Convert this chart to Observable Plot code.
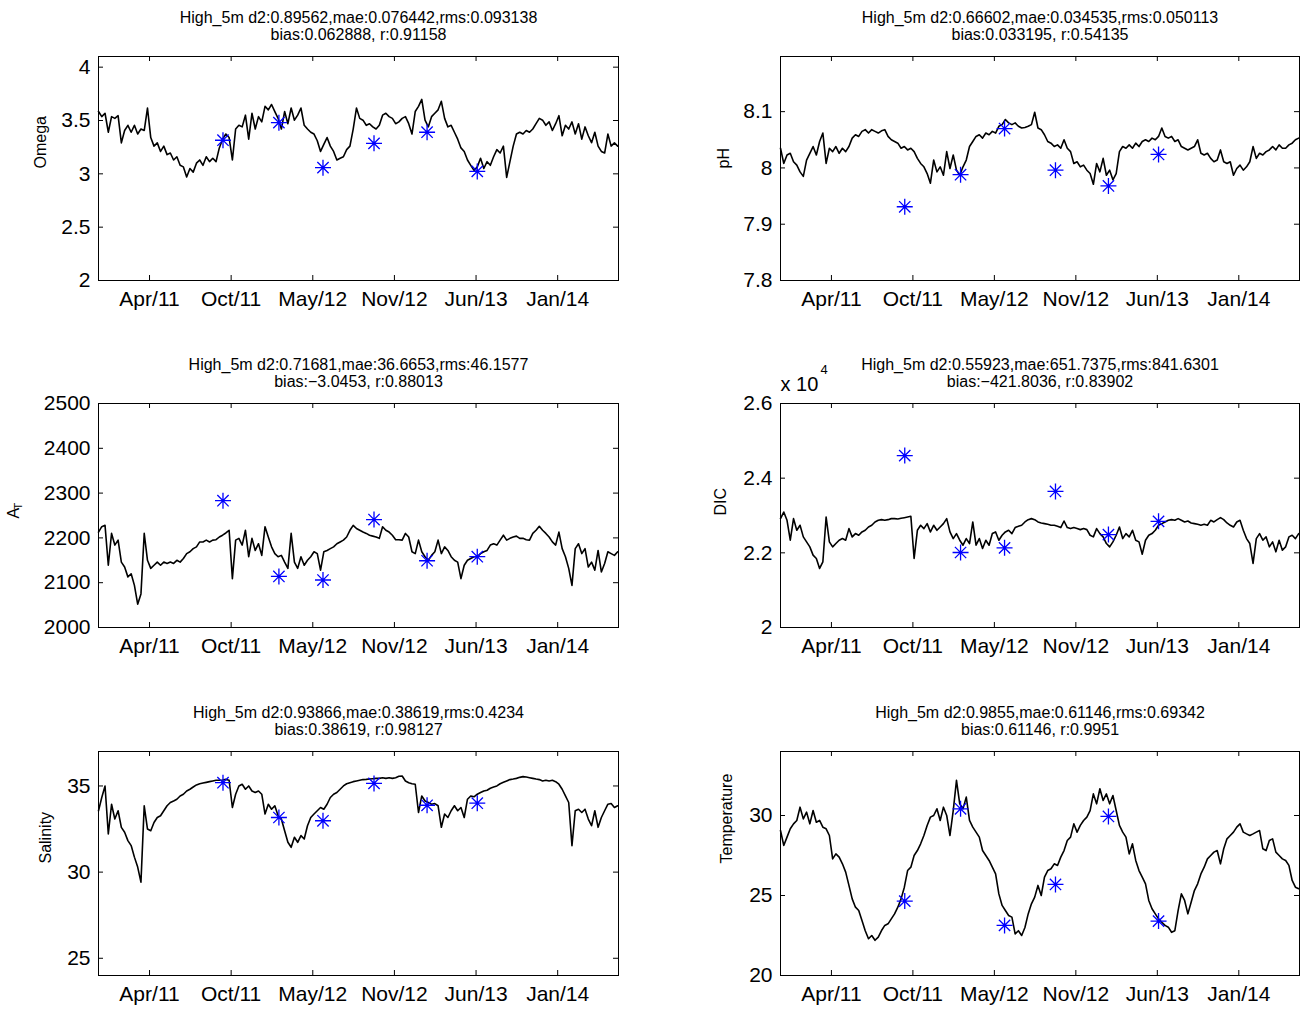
<!DOCTYPE html>
<html>
<head>
<meta charset="utf-8">
<script src="https://cdn.jsdelivr.net/npm/d3@7"></script>
<script src="https://cdn.jsdelivr.net/npm/@observablehq/plot@0.6"></script>
<style>
  body { margin: 0; background: #ffffff; }
  #root { position: relative; width: 1300px; height: 1010px; background: #ffffff; overflow: hidden; }
  .panel { position: absolute; }
</style>
</head>
<body>
<div id="root"></div>
<script>
// ---------- DATA ----------
// Model series sampled every 8 days starting at seriesStart
const seriesStart = "2010-12-03";
const stepDays = 8;
const xDomain = ["2010-12-03", "2014-05-30"];
const xTickDates = ["2011-04-07", "2011-10-24", "2012-05-11", "2012-11-27", "2013-06-15", "2014-01-01"];
const xTickLabels = ["Apr/11", "Oct/11", "May/12", "Nov/12", "Jun/13", "Jan/14"];

// Observation (sample) dates, shared by all panels
const sampleDates = ["2011-10-04", "2012-02-18", "2012-06-05", "2012-10-08", "2013-02-15", "2013-06-18"];

const omega = [3.584,3.536,3.568,3.39,3.536,3.52,3.545,3.29,3.406,3.455,
3.39,3.455,3.373,3.42,3.406,3.617,3.34,3.26,3.29,3.21,
3.26,3.18,3.195,3.13,3.16,3.08,3.065,2.97,3.05,3.016,
3.1,3.13,3.08,3.16,3.114,3.146,3.114,3.243,3.325,3.373,
3.34,3.13,3.42,3.455,3.44,3.55,3.325,3.568,3.42,3.536,
3.487,3.633,3.6,3.65,3.584,3.52,3.42,3.584,3.47,3.617,
3.503,3.55,3.617,3.455,3.42,3.39,3.373,3.31,3.21,3.276,
3.34,3.26,3.21,3.13,3.146,3.16,3.227,3.26,3.42,3.617,
3.52,3.503,3.455,3.47,3.44,3.42,3.455,3.55,3.568,3.536,
3.52,3.47,3.487,3.52,3.536,3.47,3.373,3.584,3.633,3.698,
3.503,3.44,3.536,3.568,3.6,3.68,3.52,3.44,3.455,3.39,
3.325,3.243,3.21,3.13,3.08,3.032,3.065,3.146,3.05,3.114,
3.08,3.16,3.227,3.195,3.26,2.967,3.114,3.26,3.373,3.39,
3.373,3.406,3.39,3.42,3.47,3.52,3.503,3.455,3.487,3.406,
3.47,3.545,3.357,3.455,3.42,3.487,3.373,3.47,3.325,3.44,
3.357,3.292,3.39,3.26,3.21,3.195,3.373,3.26,3.29,3.26];
const omegaSamples = [3.315, 3.48, 3.058, 3.286, 3.39, 3.023];

const ph = [8.035,8.008,8.023,8.026,8.011,8.005,7.993,7.985,8.014,8.026,
8.038,8.023,8.047,8.062,8.008,8.035,8.029,8.038,8.026,8.035,
8.029,8.038,8.053,8.059,8.056,8.065,8.068,8.062,8.068,8.065,
8.062,8.066,8.068,8.056,8.05,8.047,8.044,8.035,8.038,8.032,
8.035,8.029,8.017,8.008,8.002,7.99,7.973,8.014,7.993,8.002,
7.987,8.029,7.999,8.023,7.996,7.987,8.002,8.014,8.038,8.047,
8.056,8.059,8.053,8.062,8.059,8.065,8.062,8.074,8.077,8.086,
8.08,8.077,8.08,8.074,8.071,8.072,8.074,8.077,8.099,8.071,
8.068,8.059,8.047,8.044,8.038,8.041,8.035,8.05,8.035,8.029,
8.008,8.011,8.002,8.005,7.996,7.99,7.971,8.008,7.993,8.017,
7.987,7.996,7.979,7.99,8.029,8.038,8.035,8.041,8.035,8.044,
8.038,8.047,8.05,8.047,8.053,8.05,8.056,8.071,8.056,8.053,
8.056,8.047,8.05,8.038,8.035,8.032,8.035,8.038,8.05,8.026,
8.023,8.026,8.017,8.011,8.014,8.032,8.011,8.008,8.011,7.987,
7.999,8.005,7.996,8.002,8.011,8.038,8.017,8.026,8.023,8.029,
8.032,8.038,8.032,8.041,8.035,8.035,8.041,8.044,8.05,8.053];
const phSamples = [7.931, 7.988, 8.07, 7.996, 7.968, 8.024];

const alkalinity = [2213,2225,2228,2139,2210,2184,2195,2146,2135,2113,
2120,2094,2052,2075,2210,2150,2132,2139,2146,2139,
2146,2143,2146,2143,2150,2146,2154,2165,2169,2176,
2180,2191,2191,2195,2191,2195,2196,2202,2206,2211,
2217,2109,2195,2199,2184,2217,2158,2199,2172,2187,
2161,2225,2202,2180,2165,2158,2161,2146,2132,2210,
2146,2132,2158,2139,2150,2158,2169,2165,2128,2169,
2172,2176,2180,2187,2191,2195,2202,2217,2228,2221,
2217,2213,2210,2206,2204,2202,2199,2225,2217,2213,
2206,2196,2196,2195,2210,2202,2169,2165,2195,2169,
2158,2150,2161,2169,2195,2165,2180,2172,2158,2150,
2146,2109,2139,2150,2154,2158,2158,2165,2169,2172,
2184,2187,2184,2195,2206,2195,2199,2202,2204,2199,
2199,2196,2195,2210,2217,2226,2217,2210,2202,2191,
2184,2213,2176,2158,2132,2094,2176,2187,2165,2176,
2135,2146,2128,2172,2124,2143,2169,2165,2161,2169];
const alkalinitySamples = [2283, 2114, 2106, 2241, 2149, 2158];

const dic = [22916,23093,22871,22338,22916,22604,22738,22427,22293,22160,
21938,21849,21582,21760,22960,22293,22160,22249,22338,22382,
22338,22649,22427,22516,22471,22560,22604,22693,22738,22827,
22871,22889,22871,22889,22916,22916,22907,22924,22942,22960,
22978,21849,22604,22738,22649,22782,22560,22738,22604,22693,
22782,22916,22560,22382,22516,22338,22204,22382,22249,22827,
22204,22382,22116,22338,22204,22516,22560,22338,22471,22560,
22604,22516,22676,22711,22738,22827,22889,22916,22889,22827,
22800,22782,22764,22738,22738,22711,22676,22853,22676,22649,
22676,22649,22622,22649,22622,22471,22427,22649,22516,22427,
22249,22160,22293,22471,22693,22382,22516,22427,22604,22338,
22293,21964,22338,22471,22516,22604,22738,22782,22827,22871,
22889,22871,22916,22871,22827,22853,22800,22782,22764,22738,
22764,22738,22871,22827,22889,22942,22889,22800,22738,22693,
22827,22871,22604,22382,22249,21716,22382,22516,22338,22427,
22160,22293,22027,22338,22071,22160,22427,22471,22382,22516];
const dicSamples = [24604, 22009, 22133, 23644, 22489, 22844];

const salinity = [33.56,34.33,35.0,32.21,33.94,33.08,33.56,32.6,32.31,31.83,
31.54,30.87,30.29,29.42,33.85,32.5,32.4,32.88,33.17,33.27,
33.56,33.85,34.04,34.13,34.23,34.42,34.52,34.71,34.81,34.94,
35.06,35.13,35.17,35.21,35.25,35.29,35.33,35.33,35.35,35.38,
35.33,33.75,34.52,35.0,35.1,34.81,35.0,34.71,34.62,34.71,
34.52,33.37,33.94,33.65,33.85,33.27,33.08,32.4,31.73,31.44,
32.02,31.73,32.12,31.92,32.69,33.17,33.37,33.56,33.75,33.65,
33.94,34.33,34.52,34.62,34.81,35.0,35.13,35.19,35.25,35.29,
35.33,35.37,35.38,35.4,35.42,35.44,35.44,35.48,35.44,35.48,
35.44,35.48,35.56,35.58,35.29,35.19,35.13,35.1,33.46,34.42,
34.13,34.04,33.94,33.98,33.85,32.6,33.37,33.17,33.56,33.85,
33.56,33.75,33.17,34.23,34.42,34.37,34.52,34.62,34.71,34.75,
34.87,34.94,35.0,35.13,35.21,35.29,35.37,35.4,35.44,35.5,
35.54,35.52,35.48,35.44,35.4,35.37,35.29,35.33,35.29,35.33,
35.25,35.1,34.81,34.42,34.04,31.54,33.56,33.65,33.46,33.65,
33.08,32.69,33.56,32.6,33.17,33.56,33.94,33.98,33.75,33.85];
const salinitySamples = [35.19, 33.17, 32.98, 35.15, 33.88, 34.0];

const temperature = [29.06,28.13,28.65,29.17,29.48,29.69,30.52,29.79,30.21,29.48,
30.31,29.58,29.69,29.27,29.17,28.75,27.29,27.6,27.4,26.98,
26.46,25.63,24.79,24.27,24.06,23.44,22.8,22.3,22.5,22.2,
22.4,22.81,23.13,23.23,23.54,23.85,24.27,24.79,25.52,26.56,
26.77,27.5,27.81,28.23,28.75,29.38,29.9,30.0,30.42,29.69,
30.52,30.0,28.75,30.31,32.2,30.73,30.42,31.15,29.69,29.27,
28.96,28.65,27.81,27.5,27.19,26.77,26.35,25.1,24.38,24.06,
23.75,23.65,22.6,22.8,22.5,23.0,23.85,24.48,24.9,25.63,
25.0,26.15,26.56,26.67,26.98,26.88,27.4,27.81,28.44,28.65,
29.48,28.96,29.38,29.69,29.9,30.31,31.35,30.73,31.67,30.94,
31.35,30.73,31.25,30.31,29.38,28.96,28.65,27.6,28.23,27.19,
26.56,26.15,25.73,24.69,24.17,23.85,23.54,23.33,23.13,23.02,
22.7,22.8,24.06,25.1,24.69,23.85,24.58,25.31,25.73,26.35,
26.77,27.29,27.5,27.71,27.81,26.98,27.92,28.54,28.75,28.96,
29.27,29.48,28.96,28.85,28.75,28.85,28.96,29.06,27.92,27.81,
28.44,28.54,27.71,27.5,27.29,27.19,26.88,25.94,25.52,25.42];
const temperatureSamples = [24.65, 30.42, 23.13, 25.69, 29.94, 23.4];

// Axis ticks
const omegaTicks = [2, 2.5, 3, 3.5, 4];
const omegaTickLabels = ["2", "2.5", "3", "3.5", "4"];
const phTicks = [7.8, 7.9, 8, 8.1];
const phTickLabels = ["7.8", "7.9", "8", "8.1"];
const alkTicks = [2000, 2100, 2200, 2300, 2400, 2500];
const alkTickLabels = ["2000", "2100", "2200", "2300", "2400", "2500"];
const dicTicks = [20000, 22000, 24000, 26000];
const dicTickLabels = ["2", "2.2", "2.4", "2.6"];
const salTicks = [25, 30, 35];
const salTickLabels = ["25", "30", "35"];
const tempTicks = [20, 25, 30];
const tempTickLabels = ["20", "25", "30"];

// Titles
const titles = [
  ["High_5m d2:0.89562,mae:0.076442,rms:0.093138", "bias:0.062888, r:0.91158"],
  ["High_5m d2:0.66602,mae:0.034535,rms:0.050113", "bias:0.033195, r:0.54135"],
  ["High_5m d2:0.71681,mae:36.6653,rms:46.1577", "bias:\u22123.0453, r:0.88013"],
  ["High_5m d2:0.55923,mae:651.7375,rms:841.6301", "bias:\u2212421.8036, r:0.83902"],
  ["High_5m d2:0.93866,mae:0.38619,rms:0.4234", "bias:0.38619, r:0.98127"],
  ["High_5m d2:0.9855,mae:0.61146,rms:0.69342", "bias:0.61146, r:0.9951"]
];

// ---------- RENDER ----------
const FONT = "'Liberation Sans', Arial, Helvetica, sans-serif";
const DAY = 864e5;
const t0 = new Date(seriesStart).getTime();
const xTicks = xTickDates.map(d => new Date(d));
const xDom = xDomain.map(d => new Date(d));
const sDates = sampleDates.map(d => new Date(d));

// MATLAB-style '*' marker (plus + cross)
const matlabStar = {
  draw(context, size) {
    const r = Math.sqrt(size / Math.PI);
    const d = r * Math.SQRT1_2;
    context.moveTo(-r, 0); context.lineTo(r, 0);
    context.moveTo(0, -r); context.lineTo(0, r);
    context.moveTo(-d, -d); context.lineTo(d, d);
    context.moveTo(-d, d); context.lineTo(d, -d);
  }
};

const cols = [
  {left: 0, width: 650, ml: 98, mr: 32},
  {left: 650, width: 650, ml: 130, mr: 1}
];
const rows = [
  {top: 0, height: 335, mt: 56, mb: 55},
  {top: 340, height: 335, mt: 63, mb: 48},
  {top: 690, height: 320, mt: 61, mb: 35}
];

const panels = [
  {col: 0, row: 0, values: omega, samples: omegaSamples, domain: [2, 4.1], ticks: omegaTicks, tickLabels: omegaTickLabels, label: "Omega", labelX: 40},
  {col: 1, row: 0, values: ph, samples: phSamples, domain: [7.8, 8.198], ticks: phTicks, tickLabels: phTickLabels, label: "pH", labelX: 723},
  {col: 0, row: 1, values: alkalinity, samples: alkalinitySamples, domain: [2000, 2500], ticks: alkTicks, tickLabels: alkTickLabels, label: "A", sub: "T", labelX: 13},
  {col: 1, row: 1, values: dic, samples: dicSamples, domain: [20000, 26000], ticks: dicTicks, tickLabels: dicTickLabels, label: "DIC", labelX: 720, exponent: true},
  {col: 0, row: 2, values: salinity, samples: salinitySamples, domain: [24, 37], ticks: salTicks, tickLabels: salTickLabels, label: "Salinity", labelX: 45},
  {col: 1, row: 2, values: temperature, samples: temperatureSamples, domain: [20, 34], ticks: tempTicks, tickLabels: tempTickLabels, label: "Temperature", labelX: 726}
];

const root = document.getElementById("root");

panels.forEach((p, k) => {
  const c = cols[p.col], r = rows[p.row];
  const innerW = c.width - c.ml - c.mr;
  const innerH = r.height - r.mt - r.mb;
  const line = p.values.map((v, i) => ({date: new Date(t0 + i * stepDays * DAY), v}));
  const pts = p.samples.map((v, i) => ({date: sDates[i], v}));
  const frameLeftAbs = c.left + c.ml;
  const yFmt = d => p.tickLabels[p.ticks.indexOf(d)];
  const xFmt = d => xTickLabels[xTicks.findIndex(t => +t === +d)];

  const marks = [
    Plot.lineY(line, {x: "date", y: "v", stroke: "#000", strokeWidth: 1.6}),
    Plot.dot(pts, {x: "date", y: "v", symbol: matlabStar, r: 8, fill: "none", stroke: "#0000ff", strokeWidth: 1.3}),
    Plot.frame({stroke: "#000", strokeWidth: 1}),
    Plot.ruleX(xTicks, {stroke: "#000", insetTop: innerH - 5}),
    Plot.ruleX(xTicks, {stroke: "#000", insetBottom: innerH - 5}),
    Plot.ruleY(p.ticks, {stroke: "#000", insetRight: innerW - 5}),
    Plot.ruleY(p.ticks, {stroke: "#000", insetLeft: innerW - 5}),
    Plot.axisX({ticks: xTicks, tickFormat: xFmt, tickSize: 0, tickPadding: 11, label: null, fontSize: 21, fill: "#000"}),
    Plot.axisY({ticks: p.ticks, tickFormat: yFmt, tickSize: 0, tickPadding: 8, label: null, fontSize: 21, fill: "#000"}),
    Plot.text([titles[k][0]], {text: d => d, frameAnchor: "top", dy: -39, lineAnchor: "middle", fontSize: 16, fill: "#000"}),
    Plot.text([titles[k][1]], {text: d => d, frameAnchor: "top", dy: -22, lineAnchor: "middle", fontSize: 16, fill: "#000"})
  ];
  if (p.sub) {
    marks.push(Plot.text([p.label], {text: d => d, frameAnchor: "left", rotate: -90, dx: p.labelX - frameLeftAbs, dy: 3, fontSize: 16, fill: "#000"}));
    marks.push(Plot.text([p.sub], {text: d => d, frameAnchor: "left", rotate: -90, dx: p.labelX + 4.5 - frameLeftAbs, dy: -6, fontSize: 11, fill: "#000"}));
  } else {
    marks.push(Plot.text([p.label], {text: d => d, frameAnchor: "left", rotate: -90, dx: p.labelX - frameLeftAbs, fontSize: 16, fill: "#000"}));
  }
  if (p.exponent) {
    marks.push(Plot.text(["x 10"], {text: d => d, frameAnchor: "top-left", textAnchor: "start", lineAnchor: "bottom", dy: -13, fontSize: 20, fill: "#000"}));
    marks.push(Plot.text(["4"], {text: d => d, frameAnchor: "top-left", textAnchor: "start", lineAnchor: "bottom", dx: 40, dy: -30, fontSize: 13, fill: "#000"}));
  }

  const chart = Plot.plot({
    width: c.width,
    height: r.height,
    marginLeft: c.ml,
    marginRight: c.mr,
    marginTop: r.mt,
    marginBottom: r.mb,
    style: {fontFamily: FONT, fontSize: "20px", background: "transparent", overflow: "visible", color: "#000"},
    x: {type: "utc", domain: xDom},
    y: {type: "linear", domain: p.domain},
    marks
  });
  const wrap = document.createElement("div");
  wrap.className = "panel";
  wrap.style.left = c.left + "px";
  wrap.style.top = r.top + "px";
  wrap.appendChild(chart);
  root.appendChild(wrap);
});
</script>
</body>
</html>
